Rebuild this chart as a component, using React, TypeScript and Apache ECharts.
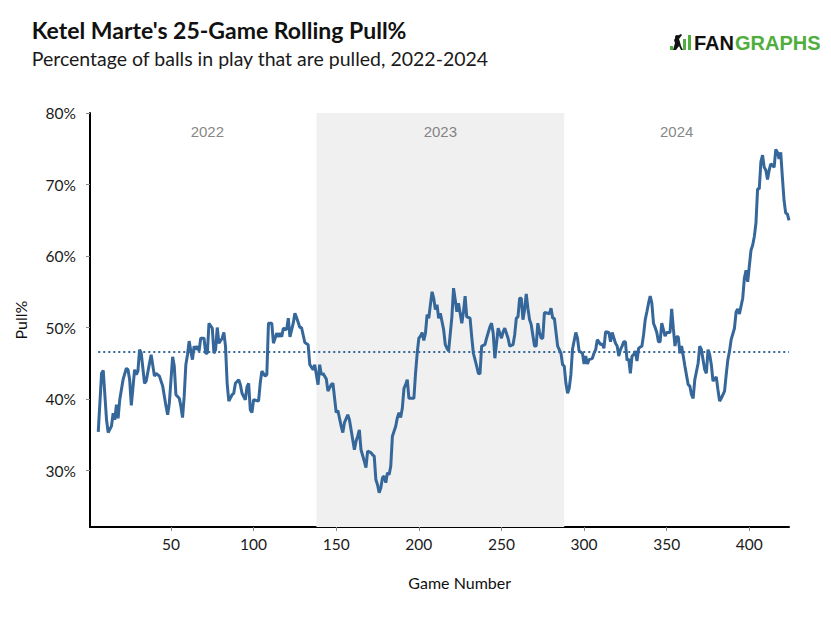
import React, { useEffect, useRef } from "react";
import * as echarts from "echarts";

const games: number[] = [
  6, 8, 9, 11, 12, 14, 15, 16, 17, 18, 19, 21, 23, 24, 25, 26, 28, 29, 30, 31, 32, 34, 35, 37, 38, 40, 41, 43, 45, 47, 48, 49,
  51, 52, 53, 55, 56, 57, 58, 59, 60, 61, 62, 63, 64, 65, 66, 67, 68, 70, 71, 72, 73, 75, 76, 77, 78, 79, 81, 82, 83, 84, 85,
  87, 88, 89, 91, 92, 93, 95, 96, 97, 98, 99, 100, 103, 104, 105, 107, 108, 109, 111, 112, 114, 115, 116, 117, 118, 120, 121,
  122, 124, 125, 126, 128, 129, 131, 133, 134, 136, 137, 139, 140, 141, 142, 144, 145, 147, 148, 150, 151, 153, 154, 155, 157,
  158, 159, 161, 162, 163, 164, 165, 167, 168, 169, 171, 172, 173, 174, 175, 176, 177, 178, 179, 180, 181, 182, 183, 184, 186,
  187, 188, 189, 190, 191, 192, 193, 194, 197, 198, 199, 200, 201, 202, 203, 204, 205, 206, 207, 208, 209, 210, 211, 212, 213,
  215, 216, 217, 218, 220, 221, 222, 223, 224, 225, 226, 227, 228, 229, 231, 232, 233, 235, 236, 237, 238, 240, 241, 243, 244,
  245, 246, 247, 248, 250, 251, 252, 253, 254, 255, 257, 258, 259, 260, 261, 262, 263, 264, 265, 266, 267, 268, 270, 271, 272,
  273, 274, 275, 276, 278, 279, 280, 281, 282, 284, 286, 287, 288, 289, 290, 291, 292, 293, 295, 296, 297, 299, 300, 301, 302,
  303, 305, 306, 307, 308, 310, 311, 312, 313, 315, 316, 317, 319, 320, 321, 322, 323, 324, 325, 326, 327, 328, 329, 330, 331,
  332, 333, 335, 336, 337, 338, 339, 340, 341, 342, 343, 344, 345, 346, 347, 349, 350, 351, 352, 353, 354, 355, 356, 357, 358,
  359, 360, 361, 363, 364, 365, 366, 367, 369, 370, 371, 373, 374, 375, 376, 377, 378, 380, 381, 382, 383, 385, 386, 387, 388,
  389, 391, 392, 393, 394, 396, 397, 398, 399, 401, 402, 403, 404, 405, 406, 407, 408, 409, 410, 411, 412, 413, 414, 415, 416,
  417, 418, 419, 420, 421, 422, 423, 424,
];

const pullPct: number[] = [
  35.4, 43.6, 44.0, 37.1, 35.3, 36.2, 38.0, 37.1, 39.2, 37.3, 39.9, 42.7, 44.3, 44.1, 42.7, 39.1, 44.1, 43.4, 43.9, 46.9, 46.4,
  42.2, 42.5, 45.0, 46.2, 43.2, 43.6, 43.2, 41.8, 39.0, 37.8, 39.4,
  45.9, 44.6, 40.6, 40.1, 39.0, 37.4, 40.4, 44.8, 46.2, 48.1, 46.7, 45.5, 47.4, 46.9, 47.4, 46.7, 48.5, 48.5, 46.4, 46.4, 50.6,
  49.9, 46.4, 46.9, 50.0, 47.8, 48.5, 49.3, 47.4, 42.2, 39.7,
  40.6, 40.8, 42.2, 42.7, 42.0, 40.8, 39.9, 41.7, 42.2, 38.5, 38.1, 39.9, 39.7, 42.2, 43.9, 43.2, 43.4, 50.6, 50.6, 47.8, 49.2,
  48.7, 49.2, 48.7, 49.9, 49.7, 51.3,
  48.7, 50.6, 52.0, 51.4, 50.0, 50.0, 47.9, 47.6, 44.8, 44.1, 44.8, 42.0, 44.8, 43.4, 43.6, 42.8, 41.1, 42.0, 42.2, 38.1, 38.4,
  36.2, 35.3, 36.7, 37.8,
  37.1, 35.7, 32.9, 34.1, 34.8, 35.7, 32.9, 31.3, 30.4, 32.7, 32.5, 32.2, 32.0, 28.7, 28.0, 26.9, 27.6, 29.0, 29.2, 28.3, 29.7,
  29.4, 30.6, 34.8, 36.2,
  37.4, 38.1, 37.4, 38.7, 41.5, 42.0, 42.7, 40.1, 40.1, 43.6, 46.4, 48.5, 48.8, 49.3, 48.2, 49.2, 51.8, 51.3, 53.2, 55.0, 54.1,
  52.5, 53.2, 51.3, 52.0,
  49.7, 47.6, 47.1, 46.7, 51.5, 55.5, 53.9, 52.2, 53.4, 52.0, 50.6, 52.2, 54.4, 51.5, 51.3, 48.7, 46.4, 44.6, 43.6, 43.5, 47.4,
  47.6, 48.5, 50.1, 50.6,
  49.2, 45.7, 47.8, 49.9, 48.5, 49.4, 49.9, 49.2, 48.5, 47.4, 47.6, 49.0, 51.3, 51.5, 54.1, 54.1, 51.1, 52.5, 54.7, 52.7, 51.1,
  50.4, 47.4, 47.4, 50.6,
  49.4, 48.5, 48.5, 52.1, 52.0, 51.9, 52.7, 51.3, 51.3, 47.4, 46.4, 44.8, 44.6, 42.2, 40.8, 41.5, 43.4, 47.0, 49.3, 48.5, 46.7,
  46.4, 44.9, 46.0, 44.9,
  45.5, 45.7, 46.4, 46.9, 48.3, 47.6, 47.7, 47.1, 49.4, 49.3, 48.0, 49.3, 47.8, 47.4, 46.0, 46.9, 47.4, 48.0, 48.0, 45.4, 45.6,
  43.6, 46.0, 46.2, 46.7,
  45.3, 47.1, 47.4, 49.0, 51.1, 52.2, 53.4, 54.4, 53.4, 50.6, 50.0, 49.3, 48.0, 48.0, 50.6, 48.8, 49.3, 49.3, 49.3, 52.6, 49.9,
  47.4, 48.7, 48.7, 46.4,
  47.4, 46.0, 44.6, 42.0, 41.8, 40.6, 40.1, 42.7, 45.0, 47.4, 46.9, 44.1, 43.6, 46.9, 46.2, 44.8, 42.5, 43.1, 41.3, 39.7, 40.1,
  41.1, 43.4, 45.5, 46.7,
  48.3, 49.9, 52.2, 52.6, 51.9, 54.1, 56.9, 58.0, 56.4, 60.8, 61.5, 62.7, 64.6, 69.4, 69.4, 73.2, 74.1, 72.4, 72.0, 70.7, 72.0,
  72.9, 72.7, 72.4, 74.9,
  74.5, 73.6, 74.5, 71.0, 67.8, 66.0, 65.9, 65.0,
];

const meanPull = 46.6;
const seasonStart2023 = 138;
const seasonEnd2023 = 288;
const yearLabels: string[] = ["2022", "2023", "2024"];
const yearCenters: number[] = [72, 213, 356];
const yearLabelY = 77.4;
const xTicks: number[] = [50, 100, 150, 200, 250, 300, 350, 400];
const yTicks: number[] = [30, 40, 50, 60, 70, 80];

const LINE_COLOR = "#35679a";
const GREEN = "#50ae3c";
const FONT = "Lato, 'Noto Sans', sans-serif";
const LOGO_FONT = "'Liberation Sans', Arial, sans-serif";

export default function App() {
  const ref = useRef<HTMLDivElement>(null);

  useEffect(() => {
    if (!ref.current) return;
    const chart = echarts.init(ref.current, undefined, { renderer: "svg" });
    const lineData = games.map((g, i) => [g, pullPct[i]]);
    const yearData = yearCenters.map((c, i) => ({ value: [c, yearLabelY], name: yearLabels[i] }));

    chart.setOption({
      animation: false,
      backgroundColor: "#ffffff",
      grid: { left: 82, right: 42, top: 105, bottom: 92, containLabel: false, outerBoundsMode: "none" },
      xAxis: {
        type: "value",
        min: 1,
        max: 424,
        axisLine: { show: true, lineStyle: { color: "#000000", width: 2 } },
        axisTick: { show: true, length: 4, lineStyle: { color: "#888888", width: 1 }, customValues: xTicks },
        axisLabel: { fontFamily: FONT, fontSize: 15.5, color: "#1a1a1a", margin: 9, customValues: xTicks },
        splitLine: { show: false },
      },
      yAxis: {
        type: "value",
        min: 22.1,
        max: 80,
        name: "Pull%",
        nameLocation: "middle",
        nameGap: 62,
        nameTextStyle: { fontFamily: FONT, fontSize: 16, color: "#111111" },
        axisLine: { show: true, lineStyle: { color: "#000000", width: 2 } },
        axisTick: { show: true, length: 4, lineStyle: { color: "#888888", width: 1 }, customValues: yTicks },
        axisLabel: {
          fontFamily: FONT,
          fontSize: 15.5,
          color: "#1a1a1a",
          margin: 14,
          customValues: yTicks,
          formatter: (v: number) => `${Math.round(v)}%`,
        },
        splitLine: { show: false },
      },
      graphic: [
        {
          type: "text",
          x: 23.7,
          y: 22,
          style: {
            text: "Ketel Marte's 25-Game Rolling Pull%",
            fontFamily: FONT,
            fontSize: 23,
            fontWeight: "bold",
            fill: "#111111",
            verticalAlign: "middle",
          },
        },
        {
          type: "text",
          x: 23.7,
          y: 50,
          style: {
            text: "Percentage of balls in play that are pulled, 2022-2024",
            fontFamily: FONT,
            fontSize: 19.5,
            fill: "#1a1a1a",
            verticalAlign: "middle",
          },
        },
        {
          type: "text",
          x: 451.7,
          y: 574.5,
          style: {
            text: "Game Number",
            fontFamily: FONT,
            fontSize: 16,
            fill: "#111111",
            align: "center",
            verticalAlign: "middle",
          },
        },
        {
          type: "group",
          x: 0,
          y: 0,
          children: [
            { type: "rect", shape: { x: 662, y: 38, width: 3, height: 4 }, style: { fill: GREEN } },
            {
              type: "polygon",
              shape: {
                points: [
                  [665, 42], [667, 35], [666, 32], [668, 29], [671, 27], [673, 26], [674, 27], [671, 31], [672, 34],
                  [673, 38], [675, 42], [673, 42], [671, 38], [668, 42],
                ],
              },
              style: { fill: "#111111" },
            },
            { type: "circle", shape: { cx: 669, cy: 29, r: 2 }, style: { fill: "#111111" } },
            { type: "rect", shape: { x: 675, y: 31, width: 3, height: 11 }, style: { fill: GREEN } },
            { type: "rect", shape: { x: 680, y: 27, width: 3, height: 15 }, style: { fill: GREEN } },
            {
              type: "text",
              x: 686,
              y: 35.3,
              style: {
                text: "FAN",
                fontFamily: LOGO_FONT,
                fontWeight: "bold",
                fontSize: 20,
                fill: "#111111",
                verticalAlign: "middle",
              },
            },
            {
              type: "text",
              x: 727,
              y: 35.3,
              style: {
                text: "GRAPHS",
                fontFamily: LOGO_FONT,
                fontWeight: "bold",
                fontSize: 20,
                fill: GREEN,
                verticalAlign: "middle",
              },
            },
          ],
        },
      ],
      series: [
        {
          type: "line",
          data: lineData,
          showSymbol: false,
          symbol: "none",
          lineStyle: { color: LINE_COLOR, width: 3 },
          z: 3,
          markArea: {
            silent: true,
            itemStyle: { color: "#f0f0f0" },
            data: [[{ xAxis: seasonStart2023 }, { xAxis: seasonEnd2023 }]],
          },
          markLine: {
            silent: true,
            symbol: "none",
            label: { show: false },
            lineStyle: { color: LINE_COLOR, type: [2, 3], width: 2 },
            data: [[{ coord: [games[0], meanPull] }, { coord: [games[games.length - 1], meanPull] }]],
          },
        },
        {
          type: "scatter",
          data: yearData,
          symbolSize: 0,
          silent: true,
          z: 2,
          label: {
            show: true,
            position: "inside",
            formatter: (p: any) => p.name,
            fontFamily: LOGO_FONT,
            fontSize: 15,
            color: "#666666",
          },
        },
      ],
    });

    return () => chart.dispose();
  }, []);

  return <div ref={ref} style={{ width: 823, height: 611 }} />;
}
